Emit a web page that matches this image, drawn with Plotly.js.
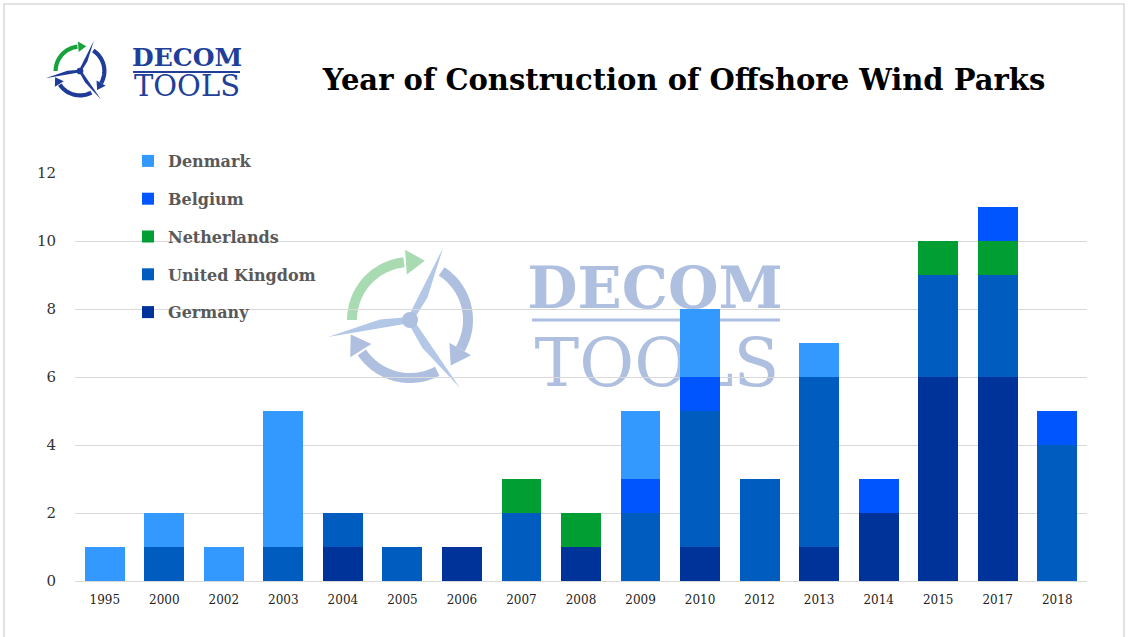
<!DOCTYPE html>
<html>
<head>
<meta charset="utf-8">
<script src="https://cdn.plot.ly/plotly-3.0.1.min.js"></script>
<style>html,body{margin:0;padding:0;background:#fff;}#chart{width:1128px;height:637px;}</style>
</head>
<body>
<div id="chart"></div>
<script>
// ---- data ----
const years = ['1995','2000','2002','2003','2004','2005','2006','2007','2008','2009','2010','2012','2013','2014','2015','2017','2018'];
const germany     = [0,0,0,0,1,0,1,0,1,0,1,0,1,2,6,6,0];
const unitedKingdom = [0,1,0,1,1,1,0,2,0,2,4,3,5,0,3,3,4];
const netherlands = [0,0,0,0,0,0,0,1,1,0,0,0,0,0,1,1,0];
const belgium     = [0,0,0,0,0,0,0,0,0,1,1,0,0,1,0,1,1];
const denmark     = [1,1,1,4,0,0,0,0,0,2,2,0,1,0,0,0,0];
const seriesNames = ['Germany','United Kingdom','Netherlands','Belgium','Denmark'];
const seriesValues = [germany, unitedKingdom, netherlands, belgium, denmark];
const seriesColors = ['#003399','#005cbf','#009e33','#0055ff','#3399ff'];
const titleText = 'Year of Construction of Offshore Wind Parks';

// ---- geometry helpers (pixel -> paper) ----
const W = 1128, H = 637;
const L = 75, R = 1087, T = 173, B = 581;
function px(x){ return (x - L) / (R - L); }
function py(y){ return (B - y) / (B - T); }
function pathOf(pts, close){
  let s = '';
  pts.forEach((p,i)=>{ s += (i===0?'M':'L') + px(p[0]).toFixed(5) + ',' + py(p[1]).toFixed(5); });
  return s + (close ? 'Z' : '');
}
const shapes = [];
function addLogo(cx, cy, s, green, blue, blade, hubColor){
  const r = 58*s, lw = 10*s;
  const arcs = [[180, 266, green],[303, 390, blue],[62, 148, blue]];
  arcs.forEach(a=>{
    const pts = [];
    for(let d=a[0]; d<=a[1]; d+=3){
      const t = d*Math.PI/180;
      pts.push([cx + r*Math.cos(t), cy + r*Math.sin(t)]);
    }
    shapes.push({type:'path', xref:'paper', yref:'paper', layer:'below', path: pathOf(pts,false),
      line:{color:a[2], width:lw}, fillcolor:'rgba(0,0,0,0)'});
    const t1 = a[1]*Math.PI/180;
    const E = [cx + r*Math.cos(t1), cy + r*Math.sin(t1)];
    const u = [Math.cos(t1), Math.sin(t1)], tg = [-Math.sin(t1), Math.cos(t1)];
    const b1 = [E[0]+u[0]*lw*1.25, E[1]+u[1]*lw*1.25];
    const b2 = [E[0]-u[0]*lw*1.25, E[1]-u[1]*lw*1.25];
    const tip = [E[0]+tg[0]*lw*1.9, E[1]+tg[1]*lw*1.9];
    shapes.push({type:'path', xref:'paper', yref:'paper', layer:'below', path: pathOf([b1,tip,b2],true),
      line:{width:0}, fillcolor:a[2]});
  });
  const tips = [[33,-72],[-82,17],[50,68]];
  tips.forEach(tp=>{
    const tip = [cx+tp[0]*s, cy+tp[1]*s];
    const len = Math.hypot(tp[0]*s, tp[1]*s);
    const v = [tp[0]*s/len, tp[1]*s/len], n = [-v[1], v[0]];
    const w = 5*s;
    const p1 = [cx+n[0]*w*0.6, cy+n[1]*w*0.6];
    const p2 = [cx+v[0]*len*0.35+n[0]*w*1.3, cy+v[1]*len*0.35+n[1]*w*1.3];
    const p4 = [cx-n[0]*w*0.6, cy-n[1]*w*0.6];
    shapes.push({type:'path', xref:'paper', yref:'paper', layer:'below', path: pathOf([p1,p2,tip,p4],true),
      line:{width:0}, fillcolor:blade});
  });
  const hr = 8*s;
  shapes.push({type:'circle', xref:'paper', yref:'paper', layer:'below',
    x0:px(cx-hr), x1:px(cx+hr), y0:py(cy+hr), y1:py(cy-hr), line:{width:0}, fillcolor:hubColor});
}
// watermark
addLogo(410, 320, 1.0, '#a9dbb3', '#aebfdf', '#b3c7e6', '#aebfdf');
// top-left logo
addLogo(80, 71, 0.42, '#17a33b', '#1f3c99', '#1f3c99', '#1f3c99');

// watermark text (below traces)
shapes.push({type:'rect', xref:'paper', yref:'paper', layer:'below',
  x0:px(520), x1:px(790), y0:py(310), y1:py(258), line:{width:0}, fillcolor:'rgba(0,0,0,0)',
  label:{text:'DECOM', textposition:'middle center', font:{family:'DejaVu Serif', size:58, color:'#aebfdf', weight:'bold'}}});
shapes.push({type:'line', xref:'paper', yref:'paper', layer:'below',
  x0:px(532), x1:px(780), y0:py(320), y1:py(320), line:{color:'#aebfdf', width:3}});
shapes.push({type:'rect', xref:'paper', yref:'paper', layer:'below',
  x0:px(520), x1:px(794), y0:py(386), y1:py(330), line:{width:0}, fillcolor:'rgba(0,0,0,0)',
  label:{text:'TOOLS', textposition:'middle center', font:{family:'DejaVu Serif', size:67, color:'#aebfdf'}}});
// small logo underline
shapes.push({type:'line', xref:'paper', yref:'paper',
  x0:px(133), x1:px(240), y0:py(72), y1:py(72), line:{color:'#213f99', width:2}});
// frame
shapes.push({type:'rect', xref:'paper', yref:'paper', layer:'below',
  x0:px(4), x1:px(1124), y0:py(4), y1:py(660), line:{color:'#d9d9d9', width:1.5}, fillcolor:'rgba(0,0,0,0)'});

const annotations = [
  {xref:'paper', yref:'paper', x:px(187), y:py(58), text:'DECOM', showarrow:false, xanchor:'center', yanchor:'middle',
   font:{family:'DejaVu Serif', size:25, color:'#213f99', weight:'bold'}},
  {xref:'paper', yref:'paper', x:px(187), y:py(86), text:'TOOLS', showarrow:false, xanchor:'center', yanchor:'middle',
   font:{family:'DejaVu Serif', size:29, color:'#213f99'}}
];

const legendRanks = [5,4,3,2,1];
const traces = seriesNames.map((name,i)=>({
  type:'bar', name:name, x:years, y:seriesValues[i], legendgroup:name, legendrank:legendRanks[i],
  marker:{color:seriesColors[i], line:{width:0}}
}));

const layout = {
  width:W, height:H,
  margin:{l:L, r:W-R, t:T, b:H-B, autoexpand:false},
  paper_bgcolor:'#ffffff', plot_bgcolor:'rgba(0,0,0,0)',
  barmode:'stack', bargap:0.33,
  title:{text:titleText, x:684/W, xanchor:'center', y:1-80/H, yanchor:'middle',
    font:{family:'DejaVu Serif', size:29, color:'#000000', weight:'bold'}},
  xaxis:{type:'category', showgrid:false, zeroline:false, showline:true, linecolor:'#d9d9d9', linewidth:1,
    ticks:'', tickfont:{family:'DejaVu Serif', size:12, color:'#222222'}, ticklabelstandoff:8},
  yaxis:{range:[0,12], dtick:2, showgrid:true, gridcolor:'#d9d9d9', gridwidth:1, zeroline:false, showline:false,
    ticks:'', tickfont:{family:'DejaVu Serif', size:15, color:'#333333'}, ticklabelstandoff:18},
  showlegend:true,
  legend:{x:px(128), y:py(144), xanchor:'left', yanchor:'top',
    traceorder:'grouped', tracegroupgap:14, bgcolor:'rgba(0,0,0,0)',
    font:{family:'DejaVu Serif', size:16, color:'#595959', weight:'bold'}},
  shapes:shapes, annotations:annotations
};
Plotly.newPlot('chart', traces, layout, {displayModeBar:false, staticPlot:true});
</script>
</body>
</html>
